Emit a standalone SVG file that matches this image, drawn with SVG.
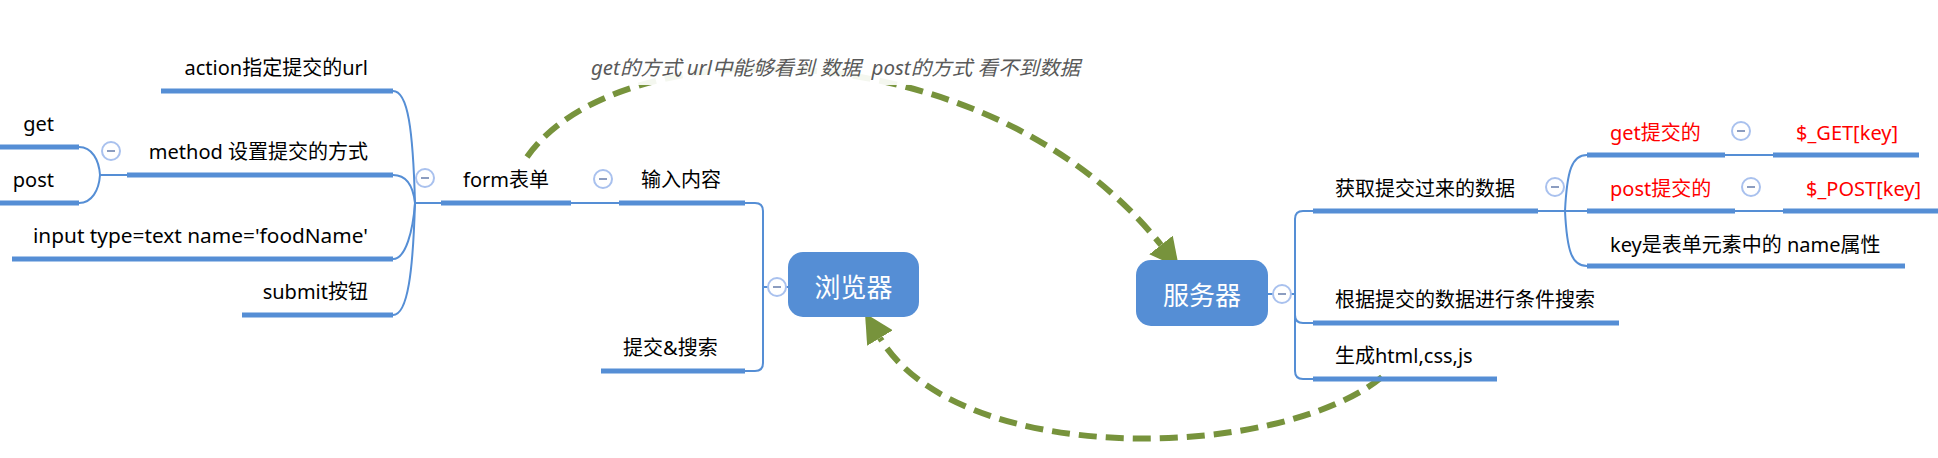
<svg xmlns="http://www.w3.org/2000/svg" xmlns:xlink="http://www.w3.org/1999/xlink" width="1938" height="458" viewBox="0 0 1938 458">
<style>
.ul{stroke:#558ED5;stroke-width:5;fill:none}
.ln{stroke:#558ED5;stroke-width:2;fill:none}
.t{font-family:"Noto Sans","Noto Sans CJK SC",sans-serif;font-size:20px;fill:#000}
.r{fill:#FF0000}
.e{text-anchor:end}
.box{fill:#558ED5}
.bt{font-family:"Noto Sans CJK SC","Noto Sans",sans-serif;font-size:26px;fill:#fff;text-anchor:middle}
.dash{stroke:#77933C;stroke-width:6;fill:none;stroke-dasharray:18 9}
.lbl{font-family:"Noto Sans","Noto Sans CJK SC",sans-serif;font-size:20px;font-style:italic;fill:#595959}
</style>
<defs>
<g id="minus">
<circle r="9" fill="#fff" stroke="#A9C1EE" stroke-width="2"/>
<line x1="-4" y1="0" x2="4" y2="0" stroke="#8C9DC0" stroke-width="2"/>
</g>
<marker id="ah" markerUnits="userSpaceOnUse" markerWidth="30" markerHeight="30" refX="0" refY="14" orient="auto" viewBox="0 0 28 28">
<path d="M0,0 L27,14 L0,28 z" fill="#77933C"/>
</marker>
</defs>

<g id="connectors">
<path class="ln" d="M393,91 C408,91 413,130 415,203"/>
<path class="ln" d="M393,175 C406,175 413,185 415,203"/>
<path class="ln" d="M393,259 C406,259 413,230 415,203"/>
<path class="ln" d="M393,315 C408,315 413,270 415,203"/>
<path class="ln" d="M415,203 L441,203"/>
<path class="ln" d="M79,147 C92,147 99,160 100,175"/>
<path class="ln" d="M79,203 C92,203 99,190 100,175"/>
<path class="ln" d="M100,175 L127,175"/>
<path class="ln" d="M571,203 L619,203"/>
<path class="ln" d="M745,203 L755,203 Q763,203 763,211 L763,363 Q763,371 755,371 L745,371"/>
<path class="ln" d="M763,287 L788,287"/>
<path class="ln" d="M1268,294 L1295,294"/>
<path class="ln" d="M1313,211 L1303,211 Q1295,211 1295,219 L1295,371 Q1295,379 1303,379 L1313,379"/>
<path class="ln" d="M1295,315 Q1295,323 1303,323 L1313,323"/>
<path class="ln" d="M1538,211 L1587,211"/>
<path class="ln" d="M1565,211 C1567,170 1572,155 1587,155"/>
<path class="ln" d="M1565,211 C1567,252 1572,266 1587,266"/>
<path class="ln" d="M1725,155 L1773,155"/>
<path class="ln" d="M1735,211 L1783,211"/>
<path class="dash" d="M527,157 C620,25 990,30 1161,245" marker-end="url(#ah)"/>
<path class="dash" d="M1382,377 C1280,460 960,470 880,338" marker-end="url(#ah)"/>
</g>

<g id="relation-label">
<rect x="586" y="52" width="500" height="33" fill="#fff" fill-opacity="0.92"/>
<text class="lbl" x="591" y="75" textLength="489" lengthAdjust="spacingAndGlyphs" xml:space="preserve">get的方式 url中能够看到 数据  post的方式 看不到数据</text>
</g>

<g id="node-action"><line class="ul" x1="161" y1="91" x2="393" y2="91"/><text class="t e" x="368" y="75">action指定提交的url</text></g>
<g id="node-method"><line class="ul" x1="127" y1="175" x2="393" y2="175"/><text class="t e" x="368" y="159">method 设置提交的方式</text><use xlink:href="#minus" x="111" y="151"/></g>
<g id="node-get"><line class="ul" x1="0" y1="147" x2="79" y2="147"/><text class="t e" x="54" y="131">get</text></g>
<g id="node-post"><line class="ul" x1="0" y1="203" x2="79" y2="203"/><text class="t e" x="54" y="187">post</text></g>
<g id="node-input"><line class="ul" x1="12" y1="259" x2="393" y2="259"/><text class="t" x="33" y="243" textLength="335" lengthAdjust="spacingAndGlyphs">input type=text name='foodName'</text></g>
<g id="node-submit"><line class="ul" x1="242" y1="315" x2="393" y2="315"/><text class="t e" x="368" y="299">submit按钮</text></g>
<g id="node-form"><line class="ul" x1="441" y1="203" x2="571" y2="203"/><text class="t" x="463" y="187">form表单</text><use xlink:href="#minus" x="425" y="178"/></g>
<g id="node-input-content"><line class="ul" x1="619" y1="203" x2="745" y2="203"/><text class="t" x="641" y="187">输入内容</text><use xlink:href="#minus" x="603" y="179"/></g>
<g id="node-submit-search"><line class="ul" x1="601" y1="371" x2="745" y2="371"/><text class="t" x="623" y="355">提交&amp;搜索</text></g>
<g id="node-browser"><use xlink:href="#minus" x="777" y="287"/><rect class="box" x="788" y="252" width="131" height="65" rx="15"/><text class="bt" x="853.5" y="297">浏览器</text></g>

<g id="node-server"><rect class="box" x="1136" y="260" width="132" height="66" rx="15"/><text class="bt" x="1202" y="305">服务器</text><use xlink:href="#minus" x="1282" y="294"/></g>
<g id="node-fetch"><line class="ul" x1="1313" y1="211" x2="1538" y2="211"/><text class="t" x="1335" y="196">获取提交过来的数据</text><use xlink:href="#minus" x="1555" y="187"/></g>
<g id="node-search"><line class="ul" x1="1313" y1="323" x2="1619" y2="323"/><text class="t" x="1335" y="307">根据提交的数据进行条件搜索</text></g>
<g id="node-generate"><line class="ul" x1="1313" y1="379" x2="1497" y2="379"/><text class="t" x="1335" y="363">生成html,css,js</text></g>
<g id="node-get-submit"><line class="ul" x1="1587" y1="155" x2="1725" y2="155"/><text class="t r" x="1610" y="140">get提交的</text><use xlink:href="#minus" x="1741" y="131"/></g>
<g id="node-get-key"><line class="ul" x1="1773" y1="155" x2="1919" y2="155"/><text class="t r" x="1796" y="140">$_GET[key]</text></g>
<g id="node-post-submit"><line class="ul" x1="1587" y1="211" x2="1735" y2="211"/><text class="t r" x="1610" y="196">post提交的</text><use xlink:href="#minus" x="1751" y="187"/></g>
<g id="node-post-key"><line class="ul" x1="1783" y1="211" x2="1938" y2="211"/><text class="t r" x="1806" y="196">$_POST[key]</text></g>
<g id="node-key-name"><line class="ul" x1="1587" y1="266" x2="1905" y2="266"/><text class="t" x="1610" y="252">key是表单元素中的 name属性</text></g>
</svg>
